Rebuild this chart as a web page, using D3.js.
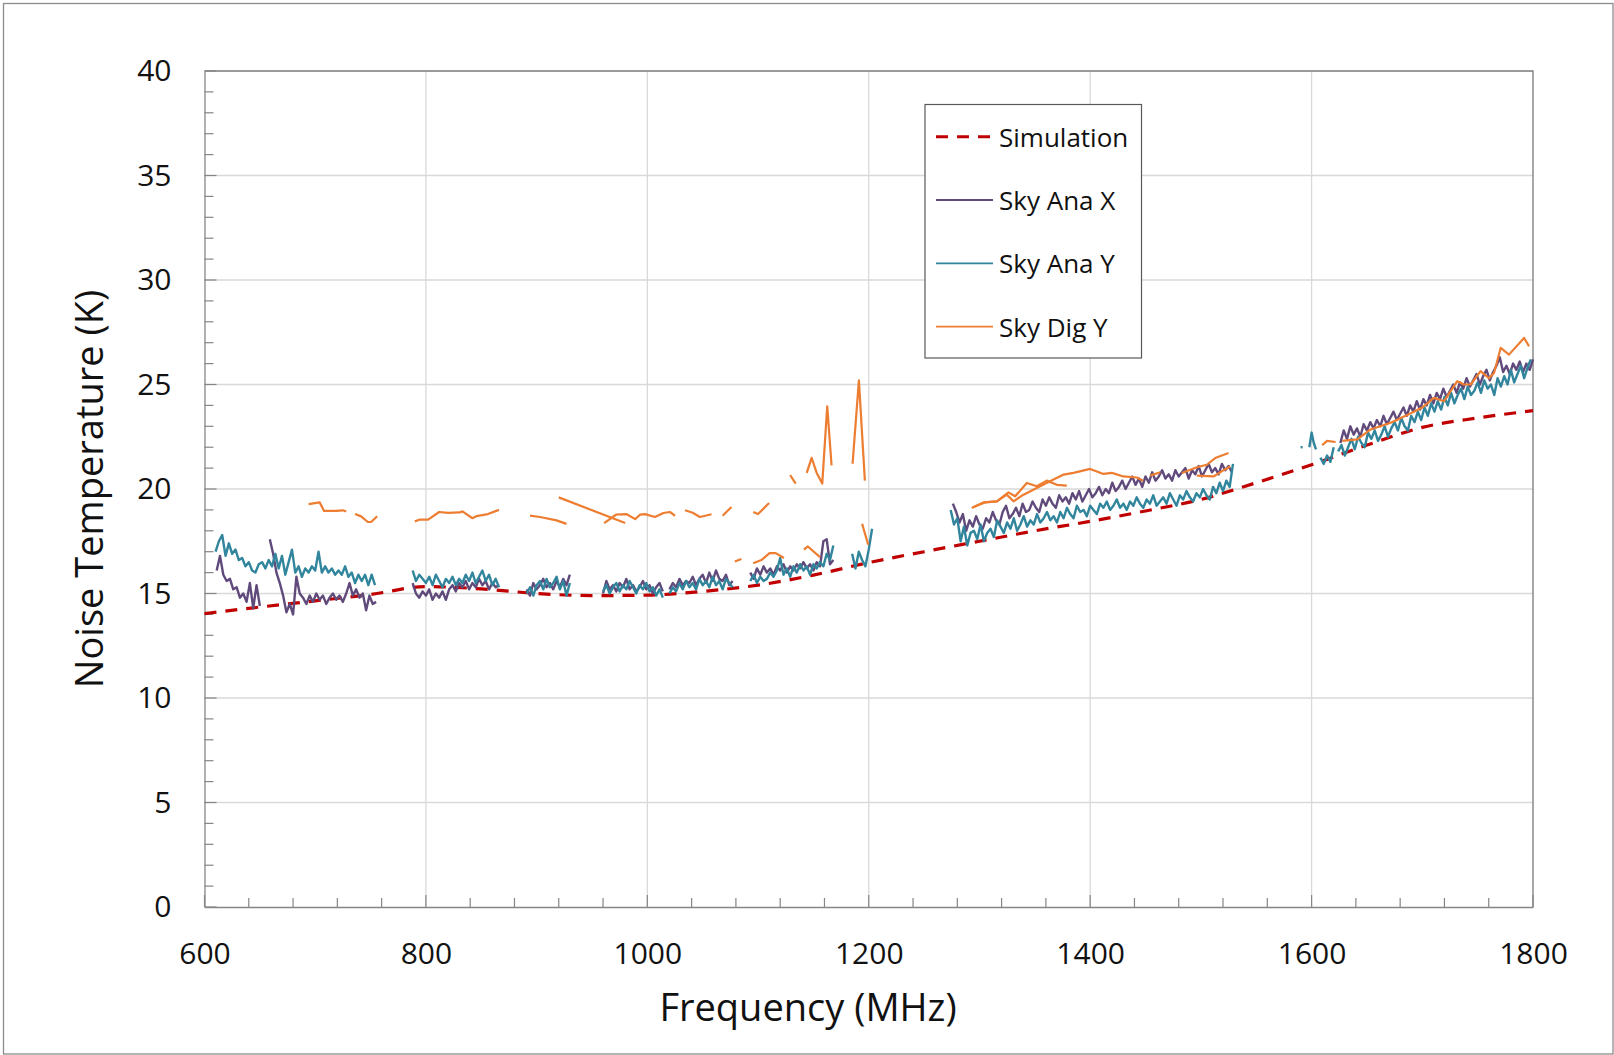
<!DOCTYPE html>
<html>
<head>
<meta charset="utf-8">
<script src="https://cdn.jsdelivr.net/npm/d3@7"></script>
<style>
  body { margin: 0; background: #fff; }
  svg { display: block; font-family: "Open Sans", sans-serif; }
</style>
</head>
<body>
<div id="chart"></div>
<script>
/* DATA */
const xTicks = [600, 800, 1000, 1200, 1400, 1600, 1800]
const yTicks = [0, 5, 10, 15, 20, 25, 30, 35, 40]

const simFreq = [600, 650, 700, 750, 800, 850, 900, 950, 1000, 1050, 1100, 1150, 1200,
    1250, 1300, 1350, 1400, 1450, 1500, 1550, 1600, 1650, 1700, 1750, 1800]
const simTemp = [14.04, 14.35, 14.65, 14.95, 15.33, 15.22, 15.0, 14.9, 14.92, 15.1, 15.4, 15.88, 16.48,
    17.0, 17.5, 18.0, 18.45, 18.95, 19.5, 20.3, 21.16, 22.1, 22.95, 23.4, 23.75]

// measured sweeps: start frequency, step (MHz), values (K)
const anaXSegments = [
    { start: 611, step: 3, values: [16.1, 16.8, 15.9, 15.6, 15.7, 15.2, 15.3, 14.8, 15.0, 14.6, 15.5, 14.3, 15.4, 14.4] },
    { start: 659, step: 3, values: [17.6, 16.9, 16.0, 15.5, 14.9, 14.1, 14.5, 14.0, 15.8, 15.0, 14.8, 14.5, 14.9, 14.6,
        15.0, 14.7, 14.9, 14.5, 14.8, 15.0, 14.7, 14.9, 14.6, 15.0, 15.5, 14.9, 15.2, 14.8, 15.0, 14.2, 14.9, 14.5, 14.6] },
    { start: 788, step: 3, values: [15.5, 15.0, 14.8, 15.1, 14.9, 15.2, 14.7, 15.0, 14.8, 15.1, 14.7, 15.2, 15.4, 15.1,
        15.5, 15.3, 15.6, 15.2, 15.5, 15.3, 15.7, 15.4, 15.6, 15.2, 15.5, 15.3, 15.4] },
    { start: 891, step: 3, values: [15.2, 14.9, 15.5, 15.2, 15.4, 15.7, 15.3, 15.5, 15.2, 15.6, 15.3, 15.7, 15.4, 15.9] },
    { start: 960, step: 3, values: [15.0, 15.6, 15.2, 15.4, 15.1, 15.5, 15.3, 15.7, 15.2, 15.4, 15.1, 15.3, 15.6, 15.2,
        15.4, 15.0, 15.3, 15.5, 15.1] },
    { start: 1020, step: 3, values: [15.2, 15.5, 15.3, 15.7, 15.4, 15.6, 15.5, 15.8, 15.4, 15.7, 15.9, 15.5, 16.0, 15.6,
        16.1, 15.7, 15.6, 15.9, 15.4, 15.6] },
    { start: 1093, step: 3, values: [16.0, 15.7, 16.2, 15.9, 16.3, 16.0, 16.2, 15.9, 16.3, 16.1, 16.4, 16.0, 16.3, 16.1,
        16.4, 16.2, 16.5, 16.2, 16.4, 16.1, 16.5, 16.3, 17.5, 17.6, 16.4, 16.6] },
    { start: 1276, step: 3, values: [19.3, 18.9, 18.4, 18.8, 18.0, 18.5, 18.2, 18.7, 18.3, 18.1, 18.6, 18.4, 18.9, 18.5,
        18.3, 18.9, 19.2, 18.6, 18.8, 19.1, 18.7, 19.3, 18.9, 19.0, 19.4, 19.1, 18.9, 19.5, 19.2, 19.6, 19.3, 19.1,
        19.7, 19.4, 19.6, 19.3, 19.8, 19.5, 19.9, 19.4, 19.7, 20.0, 19.6, 19.8, 20.1, 19.7, 20.0, 19.8, 20.3, 19.9,
        20.1, 20.4, 20.0, 20.3, 20.6, 20.2, 20.5, 20.1, 20.6, 20.3, 20.8, 20.4, 20.6, 20.9, 20.5, 20.7, 20.4, 20.9,
        20.6, 20.8, 21.0, 20.5, 20.9, 20.7, 21.1, 20.6, 20.9, 21.2, 20.8, 21.0, 20.7, 21.2, 20.9, 21.1, 20.8] },
    { start: 1626, step: 3, values: [22.2, 22.8, 22.4, 23.0, 22.6, 22.9, 22.5, 23.1, 22.8, 23.2, 22.9, 23.3, 23.0, 23.5,
        23.1, 23.4, 23.7, 23.3, 23.6, 23.9, 23.5, 24.0, 23.7, 24.2, 23.8, 24.3, 24.0, 24.5, 24.1, 24.6, 24.3, 24.8,
        24.4, 24.7, 25.0, 24.6, 25.1, 24.8, 25.3, 24.9, 25.2, 25.5, 25.0, 25.4, 25.7, 25.2, 25.6, 25.9, 26.3, 25.6,
        25.9, 25.5, 26.0, 25.7, 26.1, 25.6, 26.0, 25.7, 26.2] }
]

const anaYSegments = [
    { start: 610, step: 3, values: [17.0, 17.5, 17.8, 16.8, 17.4, 16.9, 17.1, 16.6, 16.7, 16.3, 16.5, 16.1, 16.0, 16.4,
        16.5, 16.2, 16.6, 16.3, 16.9, 16.2, 16.8, 15.9, 16.5, 17.1, 16.0, 16.3, 15.8, 16.2, 16.0, 16.3, 16.1, 17.0,
        16.0, 16.3, 16.0, 16.2, 15.9, 16.1, 15.9, 16.3, 15.8, 16.0, 15.5, 15.9, 15.6, 15.9, 15.4, 15.9, 15.4] },
    { start: 788, step: 3, values: [16.1, 15.6, 15.9, 15.7, 15.5, 15.8, 15.4, 15.9, 15.6, 15.3, 15.7, 15.5, 15.8, 15.4,
        15.7, 15.5, 15.9, 15.6, 16.0, 15.5, 15.8, 16.1, 15.6, 15.9, 15.4, 15.7, 15.3] },
    { start: 891, step: 3, values: [15.0, 15.3, 14.9, 15.4, 15.6, 15.2, 15.7, 15.3, 15.5, 15.8, 15.2, 15.6, 14.9, 15.5] },
    { start: 960, step: 3, values: [15.1, 15.4, 15.0, 15.3, 15.5, 15.1, 15.4, 15.2, 15.6, 15.3, 15.0, 15.4, 15.2, 15.5,
        15.1, 15.3, 14.9, 15.2, 14.8] },
    { start: 1020, step: 3, values: [15.0, 15.3, 15.1, 15.5, 15.2, 15.6, 15.3, 15.5, 15.2, 15.7, 15.4, 15.6, 15.3, 15.8,
        15.4, 15.6, 15.2, 15.7, 15.5, 15.3] },
    { start: 1093, step: 3, values: [15.6, 15.9, 15.5, 15.8, 15.6, 15.7, 16.0, 15.8, 16.1, 16.7, 15.9, 16.2, 15.8, 16.3,
        16.0, 16.4, 16.1, 16.3, 15.9, 16.4, 16.2, 16.5, 16.3, 16.9, 16.6, 17.3] },
    { start: 1185, step: 3, values: [16.9, 16.2, 17.0, 16.6, 16.3, 17.1, 18.1] },
    { start: 1274, step: 3, values: [19.0, 18.3, 18.6, 17.5, 18.2, 17.3, 17.9, 18.0, 17.6, 18.3, 17.5, 17.9, 18.1, 17.7,
        18.5, 18.2, 17.9, 18.4, 18.1, 18.6, 18.0, 18.3, 18.7, 18.2, 18.5, 18.3, 18.8, 18.4, 18.6, 18.9, 18.5, 18.7,
        18.4, 18.9, 18.6, 19.1, 18.8, 18.6, 19.2, 18.9, 19.0, 18.7, 19.2, 19.0, 18.8, 19.3, 19.1, 19.4, 19.0, 19.2,
        19.5, 19.1, 19.3, 19.0, 19.4, 19.2, 19.6, 19.3, 19.1, 19.5, 19.3, 19.7, 19.2, 19.4, 19.6, 19.3, 19.8, 19.5,
        19.2, 19.7, 19.5, 19.9, 19.6, 19.4, 19.8, 19.6, 20.0, 19.7, 19.5, 20.1, 19.8, 20.3, 19.9, 20.4, 20.1, 21.2] },
    { start: 1591, step: 1, values: [22.0] },
    { start: 1598, step: 2, values: [22.0, 22.7, 22.2, 21.9] },
    { start: 1608, step: 3, values: [21.5, 21.2, 21.6, 21.3, 22.0] },
    { start: 1624, step: 3, values: [21.8, 22.1, 21.6, 22.0, 22.4, 21.9, 22.5, 22.2, 22.0, 22.7, 22.4, 22.8, 22.3, 22.6,
        23.0, 22.5, 22.9, 23.2, 22.8, 23.4, 23.0, 22.8, 23.5, 23.2, 23.7, 23.3, 23.9, 23.5, 24.1, 23.7, 24.2, 23.8,
        24.4, 24.0, 24.6, 24.1, 24.5, 24.8, 24.3, 24.9, 24.5, 24.7, 25.1, 24.6, 25.2, 24.8, 25.0, 24.5, 25.3, 24.9,
        25.4, 25.0, 25.7, 25.1, 25.5, 25.9, 25.3, 25.8, 26.2] }
]

// [frequency MHz, temperature K]
const digYSegments = [
    [[694, 19.28], [704, 19.36], [708, 18.95], [719, 18.95], [725, 18.98], [728, 18.92]],
    [[736, 18.8], [741.5, 18.69], [747.5, 18.42], [750.5, 18.42], [756, 18.7]],
    [[790, 18.45], [794, 18.53], [802, 18.53], [812, 18.9], [820, 18.86], [830.5, 18.88], [833, 18.93], [842, 18.6],
        [845.5, 18.7], [856, 18.8], [866, 19.0]],
    [[894, 18.73], [903, 18.66], [918, 18.5], [927, 18.33]],
    [[920, 19.6], [980, 18.37]],
    [[961, 18.37], [972, 18.78], [981, 18.8], [989, 18.56], [993.3, 18.77], [998, 18.8], [1006.8, 18.66],
        [1014.5, 18.85], [1020.4, 18.9], [1025, 18.72]],
    [[1034, 18.98], [1041, 18.86], [1047.5, 18.66], [1058, 18.79]],
    [[1068, 18.72], [1076, 19.14]],
    [[1095.7, 18.9], [1100, 18.8], [1110, 19.33]],
    [[1129, 20.67], [1134, 20.26]],
    [[1144, 20.77], [1148.4, 21.49], [1153, 20.77], [1158, 20.26], [1162.5, 23.96], [1166.4, 21.13]],
    [[1185.4, 21.21], [1191.1, 25.2], [1196.5, 20.4]],
    [[1194, 18.34], [1199.5, 17.33]],
    [[1079, 16.53], [1085, 16.65]],
    [[1095.7, 16.45], [1103, 16.6], [1110.4, 16.93], [1116, 16.93], [1123.4, 16.7]],
    [[1141.4, 17.1], [1145, 17.25], [1156, 16.74]],
    [[1293, 19.09], [1303.6, 19.36], [1315.7, 19.41], [1326.2, 19.84], [1332.2, 19.65], [1342.8, 20.29],
        [1351.8, 20.13], [1360.8, 20.4], [1369.9, 20.2], [1378.9, 20.16]],
    [[1294.6, 19.14], [1305, 19.36], [1315.7, 19.41], [1324.7, 19.73], [1330.7, 19.41], [1339.8, 19.73],
        [1354.8, 20.13], [1366.9, 20.45], [1376, 20.69], [1385, 20.77], [1400, 20.96], [1412, 20.72],
        [1419.6, 20.77], [1430, 20.6], [1442, 20.55], [1448, 20.4]],
    [[1454.2, 20.64], [1463.3, 20.8]],
    [[1482.8, 20.77], [1496.4, 21.04], [1505.4, 21.16], [1513, 21.48], [1525, 21.72]],
    [[1496.4, 20.64], [1511.5, 20.6], [1520.5, 20.9], [1526.5, 21.08]],
    [[1609.6, 22.1], [1614, 22.3], [1621.7, 22.25]],
    [[1627.7, 22.3], [1641.3, 22.37], [1653.3, 22.85], [1671.4, 23.17], [1685, 23.5], [1700, 23.9],
        [1710.5, 24.36], [1719.6, 24.2], [1731.6, 25.16], [1737.7, 25.0], [1743.7, 25.0], [1752.7, 25.64],
        [1760.2, 25.3], [1764.8, 25.55], [1770.8, 26.75], [1778.3, 26.43], [1791.9, 27.23], [1796.4, 26.83]]
]

const legendItems = [
    { name: "Simulation", color: "#c00000", dash: "12,9", width: 3.2 },
    { name: "Sky Ana X", color: "#604a7b", dash: null, width: 2.4 },
    { name: "Sky Ana Y", color: "#31859c", dash: null, width: 2.4 },
    { name: "Sky Dig Y", color: "#ed7d31", dash: null, width: 2.2 }
]

/* SETUP */
const W = 1614, H = 1055
const plot = { left: 204.5, right: 1533, top: 71, bottom: 907 }

const svg = d3.select("#chart")
    .append("svg")
    .attr("width", W)
    .attr("height", H)

svg.append("rect")
    .attr("x", 3.5).attr("y", 3.5)
    .attr("width", 1609.5).attr("height", 1050.5)
    .attr("fill", "#fff")
    .attr("stroke", "#8c8c8c")
    .attr("stroke-width", 1.3)

const x = d3.scaleLinear().domain([600, 1800]).range([plot.left, plot.right])
const y = d3.scaleLinear().domain([0, 40]).range([plot.bottom, plot.top])

/* GRID LINES */
svg.append("g").selectAll("line")
    .data(yTicks.filter(d => d > 0 && d < 40))
    .enter().append("line")
    .attr("x1", plot.left).attr("x2", plot.right)
    .attr("y1", d => y(d)).attr("y2", d => y(d))
    .attr("stroke", "#d9d9d9").attr("stroke-width", 1.3)

svg.append("g").selectAll("line")
    .data(xTicks.filter(d => d > 600 && d < 1800))
    .enter().append("line")
    .attr("x1", d => x(d)).attr("x2", d => x(d))
    .attr("y1", plot.top).attr("y2", plot.bottom)
    .attr("stroke", "#d9d9d9").attr("stroke-width", 1.3)

/* PLOT BORDER (top, right) */
svg.append("path")
    .attr("d", `M${plot.left},${plot.top}H${plot.right}V${plot.bottom}`)
    .attr("fill", "none")
    .attr("stroke", "#7a7a7a")
    .attr("stroke-width", 1.3)

/* MINOR + MAJOR TICKS (inside) */
const yMinor = d3.range(0, 41, 1)
svg.append("g").selectAll("line")
    .data(yMinor)
    .enter().append("line")
    .attr("x1", plot.left)
    .attr("x2", d => plot.left + (d % 5 === 0 ? 12 : 9))
    .attr("y1", d => y(d)).attr("y2", d => y(d))
    .attr("stroke", "#868686").attr("stroke-width", 1.2)

const xMinor = d3.range(600, 1801, 40)
svg.append("g").selectAll("line")
    .data(xMinor)
    .enter().append("line")
    .attr("x1", d => x(d)).attr("x2", d => x(d))
    .attr("y1", plot.bottom)
    .attr("y2", d => plot.bottom - (d % 200 === 0 ? 12 : 9))
    .attr("stroke", "#868686").attr("stroke-width", 1.2)

/* AXES */
const y_axis = svg.append("g")
    .attr("transform", `translate(${plot.left},0)`)
    .call(d3.axisLeft(y).tickValues(yTicks).tickSize(0).tickPadding(33))
y_axis.select(".domain").attr("stroke", "#868686").attr("stroke-width", 1.3)

const x_axis = svg.append("g")
    .attr("transform", `translate(0,${plot.bottom})`)
    .call(d3.axisBottom(x).tickValues(xTicks).tickSize(0).tickPadding(36).tickFormat(d3.format("d")))
x_axis.select(".domain").attr("stroke", "#868686").attr("stroke-width", 1.3)

svg.selectAll(".tick text")
    .style("font-family", "'Open Sans', sans-serif")
    .style("font-size", "30px")
    .attr("fill", "#111")

/* AXIS TITLES */
svg.append("text")
    .attr("x", 808).attr("y", 1006)
    .attr("text-anchor", "middle")
    .attr("dominant-baseline", "central")
    .style("font-size", "38px")
    .attr("fill", "#111")
    .text("Frequency (MHz)")

svg.append("text")
    .attr("transform", "translate(87.5,489) rotate(-90)")
    .attr("text-anchor", "middle")
    .attr("dominant-baseline", "central")
    .style("font-size", "38px")
    .attr("fill", "#111")
    .text("Noise Temperature (K)")

/* LINES */
const line = d3.line()
    .x(d => x(d[0]))
    .y(d => y(d[1]))

function segPoints(seg) {
    return seg.values.map((v, i) => [seg.start + i * seg.step, v])
}

const plotArea = svg.append("g")

plotArea.append("path")
    .datum(simFreq.map((f, i) => [f, simTemp[i]]))
    .attr("d", line.curve(d3.curveMonotoneX))
    .attr("fill", "none")
    .attr("stroke", legendItems[0].color)
    .attr("stroke-width", legendItems[0].width)
    .attr("stroke-dasharray", legendItems[0].dash)

line.curve(d3.curveLinear)

plotArea.selectAll(".ana-x")
    .data(anaXSegments.map(segPoints))
    .enter().append("path")
    .attr("class", "ana-x")
    .attr("d", line)
    .attr("fill", "none")
    .attr("stroke", legendItems[1].color)
    .attr("stroke-width", legendItems[1].width)
    .attr("stroke-linejoin", "round")

plotArea.selectAll(".ana-y")
    .data(anaYSegments.map(segPoints))
    .enter().append("path")
    .attr("class", "ana-y")
    .attr("d", d => d.length === 1 ? `M${x(d[0][0]) - 1},${y(d[0][1])}h2` : line(d))
    .attr("fill", "none")
    .attr("stroke", legendItems[2].color)
    .attr("stroke-width", legendItems[2].width)
    .attr("stroke-linejoin", "round")

plotArea.selectAll(".dig-y")
    .data(digYSegments)
    .enter().append("path")
    .attr("class", "dig-y")
    .attr("d", line)
    .attr("fill", "none")
    .attr("stroke", legendItems[3].color)
    .attr("stroke-width", legendItems[3].width)
    .attr("stroke-linejoin", "round")

/* LEGEND */
const legend = svg.append("g")
legend.append("rect")
    .attr("x", 925).attr("y", 104.5)
    .attr("width", 216.5).attr("height", 253.5)
    .attr("fill", "#fff")
    .attr("stroke", "#595959")
    .attr("stroke-width", 1.2)

const rows = legend.selectAll(".legend-row")
    .data(legendItems)
    .enter().append("g")
    .attr("class", "legend-row")
    .attr("transform", (d, i) => `translate(0,${136.7 + i * 63.3})`)

rows.append("line")
    .attr("x1", 936).attr("x2", 993)
    .attr("stroke", d => d.color)
    .attr("stroke-width", d => d.dash ? 3 : 1.8)
    .attr("stroke-dasharray", d => d.dash)

rows.append("text")
    .attr("x", 999)
    .attr("dominant-baseline", "central")
    .style("font-size", "26px")
    .attr("fill", "#111")
    .text(d => d.name)
</script>
</body>
</html>
